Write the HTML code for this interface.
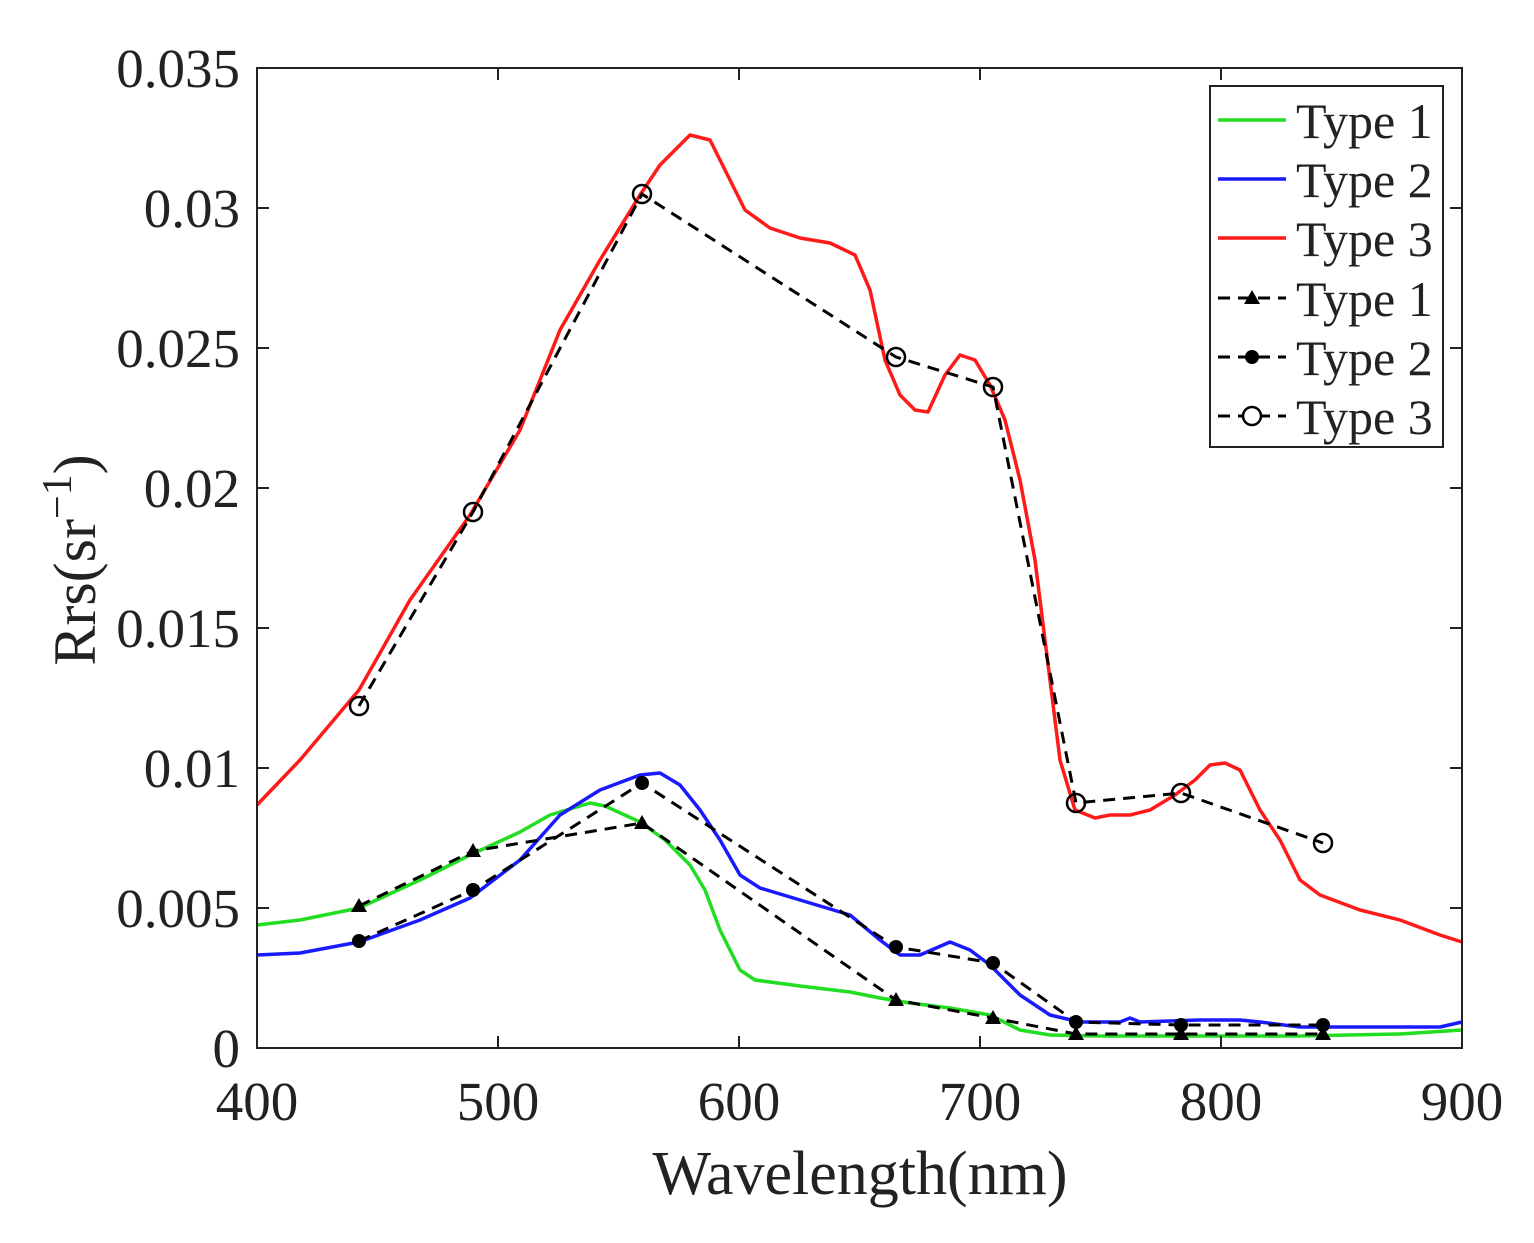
<!DOCTYPE html>
<html><head><meta charset="utf-8"><style>body{margin:0;background:#fff}svg{display:block}</style></head><body>
<svg width="1534" height="1243" viewBox="0 0 1534 1243" xmlns="http://www.w3.org/2000/svg" font-family="Liberation Serif, serif">
<rect width="1534" height="1243" fill="#fff"/>
<g fill="none" stroke-width="3.5" stroke-linejoin="round">
<polyline stroke="#ff1a1a" points="257,805 300,760 359,690 410,600 470,515 520,430 560,330 600,260 640,195 660,165 690,135 710,140 730,180 745,210 770,228 800,238 830,243 855,255 870,290 885,360 900,395 915,410 928,412 945,375 960,355 975,360 990,385 1005,420 1020,480 1035,560 1050,680 1060,760 1075,810 1095,818 1110,815 1130,815 1150,810 1175,795 1195,780 1210,765 1225,763 1240,770 1260,810 1280,840 1300,880 1320,895 1360,910 1400,920 1440,935 1462,942"/>
<polyline stroke="#22dd22" points="257,925 300,920 359,908 420,880 470,855 520,832 550,815 590,803 605,806 640,822 665,840 690,865 705,890 720,930 740,970 755,980 800,986 850,992 880,998 910,1003 950,1008 990,1015 1020,1030 1050,1035 1100,1036 1200,1036 1300,1036 1400,1034 1462,1030"/>
<polyline stroke="#1a1aff" points="257,955 300,953 359,942 420,920 470,898 520,860 560,815 600,790 640,775 660,773 680,785 700,810 720,840 740,875 760,888 800,900 850,915 880,940 900,955 920,955 950,942 970,950 990,965 1020,995 1050,1015 1080,1022 1120,1022 1130,1018 1140,1022 1200,1020 1240,1020 1260,1022 1300,1027 1400,1027 1440,1027 1462,1022"/>
</g>
<g fill="none" stroke="#000" stroke-width="3" stroke-dasharray="12,8">
<polyline points="359,706 473,512 642,194 896,357 993,387 1076,803 1181,793 1323,843"/>
<polyline points="359,941 473,890 642,783 896,947 993,963 1076,1022 1181,1025 1323,1025"/>
<polyline points="359,906 473,851 642,823 896,1000 993,1018 1076,1034 1181,1034 1323,1034"/>
</g>
<g fill="none" stroke="#000" stroke-width="2.5">
<circle cx="359" cy="706" r="9"/><circle cx="473" cy="512" r="9"/><circle cx="642" cy="194" r="9"/><circle cx="896" cy="357" r="9"/><circle cx="993" cy="387" r="9"/><circle cx="1076" cy="803" r="9"/><circle cx="1181" cy="793" r="9"/><circle cx="1323" cy="843" r="9"/>
</g>
<g fill="#000">
<circle cx="359" cy="941" r="7"/><circle cx="473" cy="890" r="7"/><circle cx="642" cy="783" r="7"/><circle cx="896" cy="947" r="7"/><circle cx="993" cy="963" r="7"/><circle cx="1076" cy="1022" r="7"/><circle cx="1181" cy="1025" r="7"/><circle cx="1323" cy="1025" r="7"/>
</g>
<g fill="#000">
<path d="M359,898 l8,14 h-16z M473,843 l8,14 h-16z M642,815 l8,14 h-16z M896,992 l8,14 h-16z M993,1010 l8,14 h-16z M1076,1026 l8,14 h-16z M1181,1026 l8,14 h-16z M1323,1026 l8,14 h-16z"/>
</g>
<g stroke="#222" stroke-width="2" fill="none">
<rect x="257" y="68" width="1205" height="980"/>
<path d="M257,908h12M257,768h12M257,628h12M257,488h12M257,348h12M257,208h12M1462,908h-12M1462,768h-12M1462,628h-12M1462,488h-12M1462,348h-12M1462,208h-12M498,1048v-12M739,1048v-12M980,1048v-12M1221,1048v-12M498,68v12M739,68v12M980,68v12M1221,68v12"/>
</g>
<g font-size="55" fill="#222" text-anchor="end">
<text x="240" y="1067">0</text><text x="240" y="927">0.005</text><text x="240" y="787">0.01</text><text x="240" y="647">0.015</text><text x="240" y="507">0.02</text><text x="240" y="367">0.025</text><text x="240" y="227">0.03</text><text x="240" y="87">0.035</text>
</g>
<g font-size="55" fill="#222" text-anchor="middle">
<text x="257" y="1120">400</text><text x="498" y="1120">500</text><text x="739" y="1120">600</text><text x="980" y="1120">700</text><text x="1221" y="1120">800</text><text x="1462" y="1120">900</text>
</g>
<text x="860" y="1194" font-size="62" fill="#222" text-anchor="middle">Wavelength(nm)</text>
<text transform="translate(95,560) rotate(-90)" font-size="60" fill="#222" text-anchor="middle">Rrs(sr<tspan dy="-24" font-size="42">−1</tspan><tspan dy="24">)</tspan></text>
<rect x="1210" y="86" width="233" height="361" fill="#fff" stroke="#222" stroke-width="2"/>
<g stroke-width="3.5">
<line x1="1218" y1="120" x2="1286" y2="120" stroke="#22dd22"/>
<line x1="1218" y1="179" x2="1286" y2="179" stroke="#1a1aff"/>
<line x1="1218" y1="238" x2="1286" y2="238" stroke="#ff1a1a"/>
</g>
<g stroke="#000" stroke-width="3" stroke-dasharray="12,8">
<line x1="1218" y1="298" x2="1286" y2="298"/>
<line x1="1218" y1="357" x2="1286" y2="357"/>
<line x1="1218" y1="416" x2="1286" y2="416"/>
</g>
<path d="M1252,290 l8,14 h-16z" fill="#000"/>
<circle cx="1252" cy="357" r="7" fill="#000"/>
<circle cx="1252" cy="416" r="9" fill="#fff" stroke="#000" stroke-width="2.5"/>
<g font-size="50" fill="#222">
<text x="1296" y="138">Type 1</text><text x="1296" y="197">Type 2</text><text x="1296" y="256">Type 3</text>
<text x="1296" y="316">Type 1</text><text x="1296" y="375">Type 2</text><text x="1296" y="434">Type 3</text>
</g>
</svg>
</body></html>
